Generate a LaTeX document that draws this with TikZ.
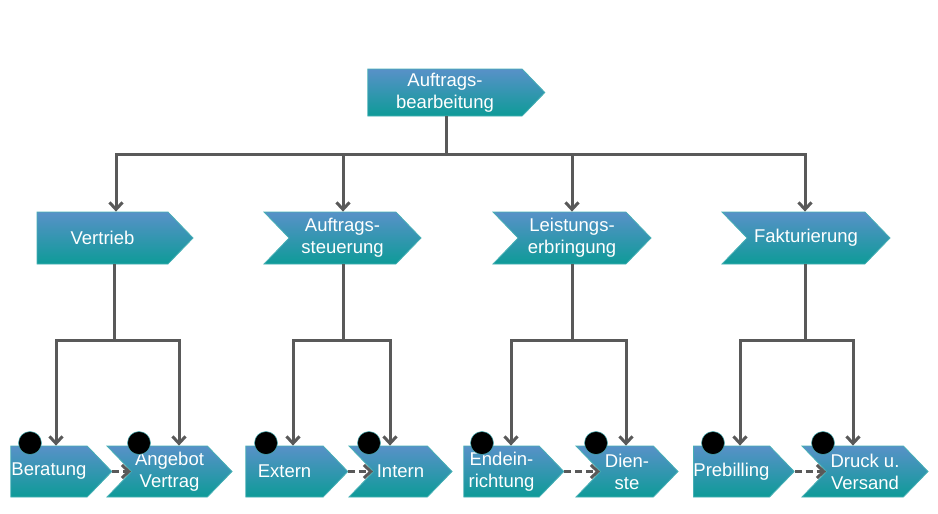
\documentclass[tikz,border=0pt]{standalone}
\usepackage{fontspec}
\setmainfont{Liberation Sans}
\usetikzlibrary{arrows.meta,shapes.symbols,calc}
\definecolor{boxtop}{RGB}{88,145,200}
\definecolor{boxbot}{RGB}{14,155,152}
\definecolor{boxedge}{RGB}{70,175,180}
\definecolor{linegray}{RGB}{89,89,89}
\tikzset{
    proc/.style={signal, signal to=east, signal pointer angle=92, draw=boxedge, line width=0.8pt,
        top color=boxtop, bottom color=boxbot, text=white, align=center, inner sep=0pt,
        font=\fontsize{18.5}{22}\selectfont},
    procin/.style={proc, signal from=west},
    link/.style={draw=linegray, line width=3pt},
    flow/.style={link, -{Straight Barb[length=7pt, width=13pt]}},
    seq/.style={flow, dash pattern=on 7pt off 4pt},
    event/.style={circle, fill=black, draw=boxedge, line width=0.5pt, minimum size=23pt, inner sep=0pt}
}

\begin{document}
\begin{tikzpicture}[x=1pt, y=-1pt]
            \useasboundingbox (0,0) rectangle (938,514);
            % Top level
            \node[proc, minimum width=177pt, minimum height=47pt] (auftrag) at (445,92.5) {Auftrags-\\bearbeitung};

            % Second level
            \node[proc, minimum width=156pt, minimum height=52pt] (vertrieb) at (102.5,238) {Vertrieb};
            \node[procin, minimum width=157pt, minimum height=52pt] (steuerung) at (342.5,238) {Auftrags-\\steuerung};
            \node[procin, minimum width=158pt, minimum height=52pt] (erbringung) at (572,238) {Leistungs-\\erbringung};
            \node[procin, minimum width=168pt, minimum height=52pt] (fakturierung) at (806,238) {Fakturierung};

            % Third level
            \node[proc, minimum width=101pt, minimum height=51pt] (beratung) at (49,471.5) {Beratung};
            \node[procin, minimum width=125pt, minimum height=51pt] (angebot) at (169.5,471.5) {Angebot\\Vertrag};
            \node[proc, minimum width=102pt, minimum height=51pt] (extern) at (284.5,471.5) {Extern};
            \node[procin, minimum width=103pt, minimum height=51pt] (intern) at (400.5,471.5) {Intern};
            \node[proc, minimum width=100pt, minimum height=51pt] (endein) at (501.5,471.5) {Endein-\\richtung};
            \node[procin, minimum width=102pt, minimum height=51pt] (dienste) at (627,471.5) {Dien-\\ste};
            \node[proc, minimum width=100pt, minimum height=51pt] (prebilling) at (731.5,471.5) {Prebilling};
            \node[procin, minimum width=126pt, minimum height=51pt] (druck) at (865,471.5) {Druck u.\\Versand};

            % Top to second level
            \coordinate (bus) at (446,154);
            \draw[link] (auftrag.south -| bus) -- (bus);
            \foreach \n/\dx in {vertrieb/13.5, steuerung/0.5, erbringung/0, fakturierung/-1}
                \draw[flow] (bus) -| ([xshift=\dx pt]\n.north);

            % Second to third level
            \foreach \p/\dx/\l/\r/\lx/\rx in {vertrieb/11.5/beratung/angebot/56/179, steuerung/0.5/extern/intern/293/390,
                    erbringung/0/endein/dienste/511/626, fakturierung/-1/prebilling/druck/740/853} {
                \draw[link] ([xshift=\dx pt]\p.south) -- ([xshift=\dx pt]\p.south |- 0,340) coordinate (\p-bar);
                \draw[flow] (\p-bar) -| (\lx,0 |- \l.north);
                \draw[flow] (\p-bar) -| (\rx,0 |- \r.north);
                \draw[seq] (\l.east) -- (\r.west);
            }

            % Events
            \foreach \n/\x in {beratung/30, angebot/139, extern/266, intern/369,
                    endein/482, dienste/596, prebilling/713, druck/823}
                \node[event] (\n-ev) at (\x,443) {};
        \end{tikzpicture}
\end{document}
